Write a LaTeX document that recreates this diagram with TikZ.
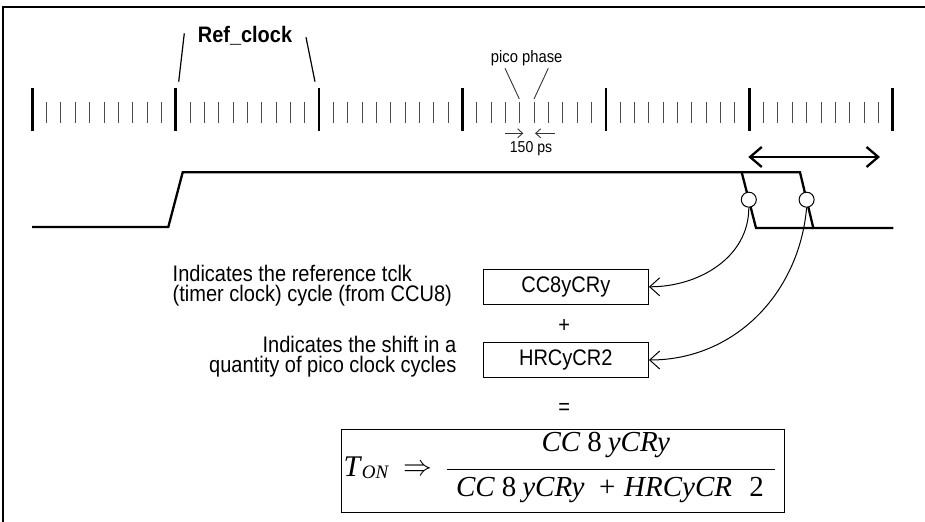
\documentclass[tikz,border=0pt]{standalone}
\usepackage{fontspec}
\setmainfont{Liberation Sans}[FakeStretch=0.89]
\newfontfamily\tnr{Liberation Serif}
\usetikzlibrary{arrows.meta}
\begin{document}
\begin{tikzpicture}[x=0.5pt,y=-0.5pt,
  txt/.style={inner sep=0pt, font=\fontsize{11.25}{13}\selectfont},
  regbox/.style={draw, line width=0.65pt, minimum width=82.5pt, minimum height=17.5pt, inner sep=0pt, font=\fontsize{11.25}{13}\selectfont},
  wave/.style={line width=1.15pt, line join=miter},
  majortick/.style={line width=1.3pt},
  minortick/.style={line width=0.5pt, black!70},
  thinline/.style={line width=0.6pt},
  edgecirc/.style={circle, draw, fill=white, line width=0.5pt, minimum size=7.5pt, inner sep=0pt},
  curvearrow/.style={line width=0.5pt, -{Straight Barb[length=5pt,width=9pt]}},
  psarrow/.style={line width=0.45pt, black!80, -{Straight Barb[length=2.5pt,width=4.5pt]}},
  formula/.style={inner sep=0pt, font=\tnr\fontsize{14.5}{17}\selectfont\itshape}
]
\useasboundingbox (0,0) rectangle (925,522);
% frame
\draw[line width=0.65pt] (3,522) -- (3,7) -- (925,7);

% tick row
\foreach \k in {0,...,6} {
  \draw[majortick] ({32.3+143.4*\k},88) -- ({32.3+143.4*\k},131);
}
\foreach \j in {1,...,59} {
  \pgfmathtruncatemacro{\r}{mod(\j,10)}
  \ifnum\r=0\relax\else
    \draw[minortick] ({32.3+14.34*\j},101.7) -- ({32.3+14.34*\j},123.3);
  \fi
}

% Ref_clock label
\node[anchor=base, inner sep=0pt, font={\fontsize{11.2}{13}\selectfont\bfseries}] (ref) at (245,42.7) {Ref\_clock};
\coordinate (rl1) at (184.3,33.3);
\coordinate (rl2) at (178.7,81.7);
\coordinate (rr1) at (306,37.3);
\coordinate (rr2) at (315,81.7);
\draw[thinline] (rl1) -- (rl2);
\draw[thinline] (rr1) -- (rr2);

% pico phase
\node[anchor=base, inner sep=0pt, font=\fontsize{8.3}{10}\selectfont] (pico) at (526.7,62.3) {pico phase};
\coordinate (pl1) at (505,68.3);
\coordinate (pl2) at (519.3,99);
\coordinate (pr1) at (548.3,68.3);
\coordinate (pr2) at (534,99);
\draw[line width=0.45pt, black!80] (pl1) -- (pl2);
\draw[line width=0.45pt, black!80] (pr1) -- (pr2);

% 150 ps
\coordinate (pa1) at (505,133.3);
\coordinate (pa2) at (523.3,133.3);
\coordinate (pb1) at (555,133.3);
\coordinate (pb2) at (535,133.3);
\draw[psarrow] (pa1) -- (pa2);
\draw[psarrow] (pb1) -- (pb2);
\node[anchor=base, inner sep=0pt, font=\fontsize{7.9}{10}\selectfont] (ps) at (531,152.7) {150 ps};

% double arrow
\coordinate (dl) at (748.3,157);
\coordinate (dr) at (880,157);
\draw[line width=1.15pt, {Straight Barb[length=5.85pt,width=10pt]}-{Straight Barb[length=5.85pt,width=10pt]}] (dl) -- (dr);

% waveform
\draw[wave] (32,227) -- (168.3,227) -- (182.7,172.3) -- (800,172.3) -- (813.3,228) -- (893.3,228);
\draw[wave] (741.7,172.3) -- (756,228) -- (813.3,228);

% circles on edges
\node[edgecirc] (c1) at (748.8,199.7) {};
\node[edgecirc] (c2) at (806.6,199.7) {};

% boxes
\node[regbox] (b1) at (565.8,286.8) {CC8yCRy};
\node[regbox] (b2) at (565.8,360) {HRCyCR2};
\node[txt] (plus) at (564.3,326) {+};
\node[txt] (eq) at (564.3,409.3) {=};

% curved connectors
\draw[curvearrow] (c1.south) to[out=-90,in=0] (b1.east);
\draw[curvearrow] (c2.south) to[out=-95,in=0] (b2.east);

% descriptions
\node[txt, anchor=base west] (d1a) at (172.3,281.5) {Indicates the reference tclk};
\node[txt, anchor=base west] (d1b) at (172.3,301.5) {(timer clock) cycle (from CCU8)};
\node[txt, anchor=base east] (d2a) at (456.7,352.5) {Indicates the shift in a};
\node[txt, anchor=base east] (d2b) at (456.7,372.5) {quantity of pico clock cycles};

% formula
\node[draw, line width=0.75pt, minimum width=221.3pt, minimum height=41.5pt, inner sep=0pt] (fbox) at (563,470.8) {};
\node[formula, anchor=base west, font=\tnr\fontsize{15}{17}\selectfont\itshape] (ton) at (343.3,476.7) {T\kern0.8pt\raisebox{-1pt}{\fontsize{9.5}{10}\selectfont\itshape ON}};
\node[inner sep=0pt, font=\fontsize{13.5}{16}\selectfont] (impl) at (418,470.7) {$\Rightarrow$};
\node[formula, anchor=base] (num) at (605.8,451.7) {CC\hspace{0.25em}{\upshape 8}\hspace{0.2em}yCRy};
\coordinate (bar1) at (446.7,469.3);
\coordinate (bar2) at (775,469.3);
\draw[line width=0.65pt] (bar1) -- (bar2);
\node[formula, anchor=base] (den) at (610,496.7) {CC\hspace{0.25em}{\upshape 8}\hspace{0.2em}yCRy\hspace{0.5em}{\upshape +}\hspace{0.3em}HRCyCR\hspace{0.6em}{\upshape 2}};
\end{tikzpicture}
\end{document}
